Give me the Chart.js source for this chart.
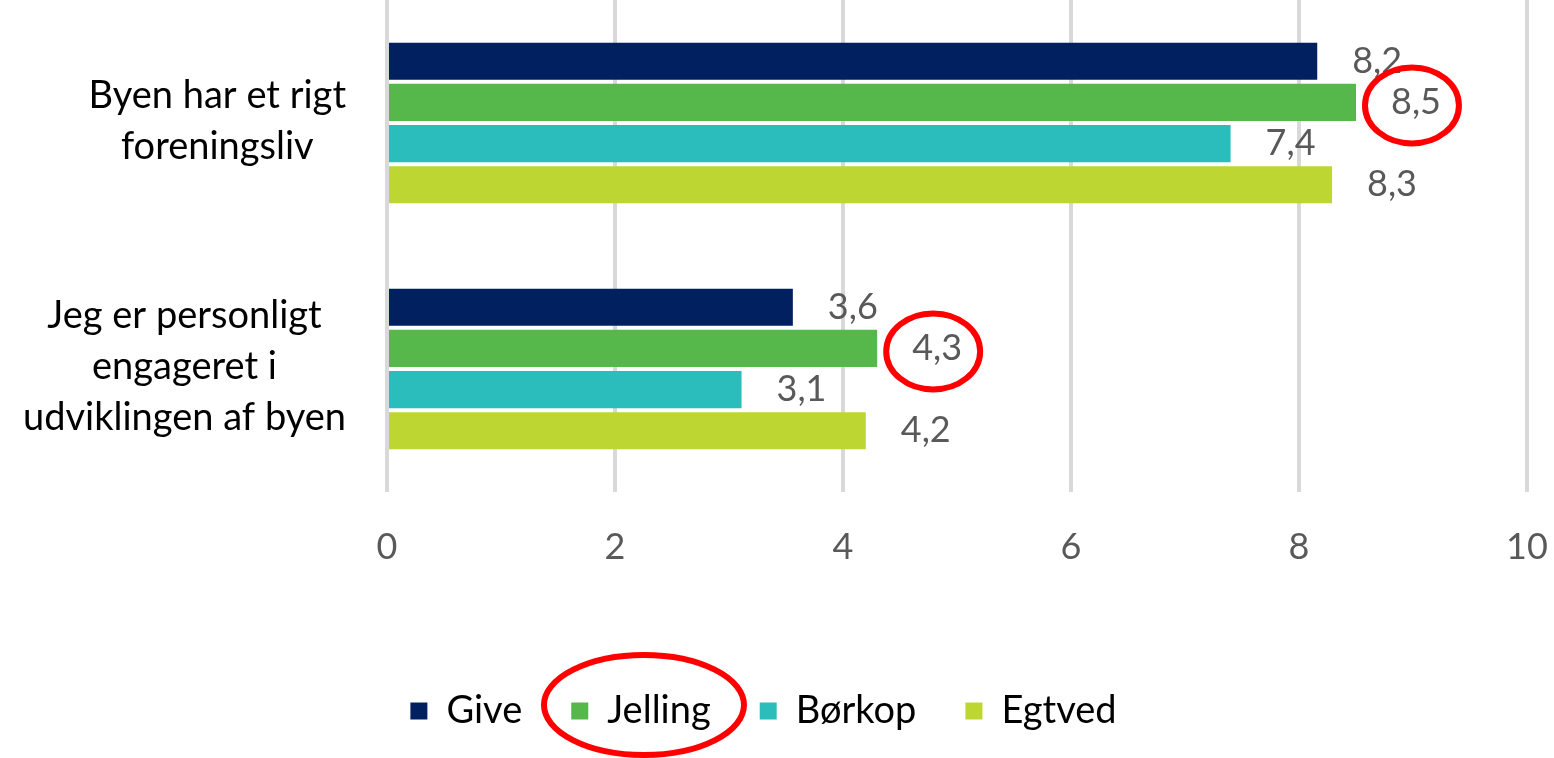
<!DOCTYPE html>
<html lang="da">
<head>
<meta charset="UTF-8">
<title>Foreningsliv og engagement</title>
<script src="https://cdn.jsdelivr.net/npm/chart.js"></script>
<style>
  html, body { margin: 0; padding: 0; background: #fff; }
  #wrap { width: 1554px; height: 758px; }
</style>
</head>
<body>
<div id="wrap"><canvas id="myChart" width="1554" height="758"></canvas></div>
<script>
// data
const categories = [
    ['Byen har et rigt', 'foreningsliv'],
    ['Jeg er personligt', 'engageret i', 'udviklingen af byen']
];
const seriesNames = ['Give', 'Jelling', 'Børkop', 'Egtved'];
const giveValues = [8.16, 3.56];
const jellingValues = [8.5, 4.3];
const borkopValues = [7.4, 3.11];
const egtvedValues = [8.29, 4.2];
const seriesColors = ['#002060', '#56B84A', '#2BBCBC', '#BDD632'];
const xTicks = [0, 2, 4, 6, 8, 10];
const circled = 'Jelling';

const fontFamily = 'Lato, "Open Sans", sans-serif';

function fmt(v) {
    return v.toFixed(1).replace('.', ',');
}

// kategori-tekster, centreret i en højrestillet blok
const categoryLabels = {
    id: 'categoryLabels',
    afterDraw(chart) {
        const ctx = chart.ctx;
        const y = chart.scales.y;
        const right = chart.chartArea.left - 41;
        const lh = 51;
        ctx.save();
        ctx.font = '38px ' + fontFamily;
        ctx.fillStyle = '#000000';
        ctx.textAlign = 'center';
        ctx.textBaseline = 'middle';
        categories.forEach((lines, i) => {
            const cy = y.getPixelForValue(i) - 2;
            const w = Math.max(...lines.map(l => ctx.measureText(l).width));
            const cx = right - w / 2;
            lines.forEach((l, j) => {
                ctx.fillText(l, cx, cy + (j - (lines.length - 1) / 2) * lh);
            });
        });
        ctx.restore();
    }
};

// værdier ved enden af søjlerne + røde ringe
const valueLabels = {
    id: 'valueLabels',
    afterDatasetsDraw(chart) {
        const ctx = chart.ctx;
        ctx.save();
        ctx.font = '36px ' + fontFamily;
        ctx.fillStyle = '#595959';
        ctx.textAlign = 'left';
        ctx.textBaseline = 'middle';
        chart.data.datasets.forEach((ds, di) => {
            const meta = chart.getDatasetMeta(di);
            meta.data.forEach((bar, i) => {
                const txt = fmt(ds.data[i]);
                const tx = bar.x + 35;
                ctx.fillText(txt, tx, bar.y);
                if (ds.label === circled) {
                    const w = ctx.measureText(txt).width;
                    ctx.save();
                    ctx.strokeStyle = '#FF0000';
                    ctx.lineWidth = 6;
                    ctx.beginPath();
                    ctx.ellipse(tx + w / 2 - 4, bar.y + 3, w / 2 + 22, 38, 0, 0, Math.PI * 2);
                    ctx.stroke();
                    ctx.restore();
                }
            });
        });
        ctx.restore();
    },
    afterDraw(chart) {
        const lg = chart.legend;
        const idx = seriesNames.indexOf(circled);
        const hb = lg.legendHitBoxes[idx];
        if (!hb) return;
        const ctx = chart.ctx;
        ctx.save();
        ctx.strokeStyle = '#FF0000';
        ctx.lineWidth = 6;
        ctx.beginPath();
        ctx.ellipse(hb.left + hb.width / 2 + 3, hb.top + hb.height / 2 - 6, 100, 50, 0, 0, Math.PI * 2);
        ctx.stroke();
        ctx.restore();
    }
};

const allValues = [giveValues, jellingValues, borkopValues, egtvedValues];

new Chart(document.getElementById('myChart').getContext('2d'), {
    type: 'bar',
    data: {
        labels: categories.map(c => c.join(' ')),
        datasets: seriesNames.map((name, i) => ({
            label: name,
            data: allValues[i],
            backgroundColor: seriesColors[i],
            borderWidth: 0,
            categoryPercentage: 0.67,
            barPercentage: 0.9
        }))
    },
    options: {
        indexAxis: 'y',
        responsive: false,
        animation: false,
        layout: { padding: { top: 0, right: 27, bottom: 18, left: 0 } },
        scales: {
            x: {
                min: 0,
                max: 10,
                afterBuildTicks(scale) {
                    scale.ticks = xTicks.map(v => ({ value: v }));
                },
                afterFit(scale) {
                    scale.height = 151;
                    scale.paddingLeft = 0;
                    scale.paddingRight = 0;
                },
                grid: { color: '#D9D9D9', lineWidth: 4, drawTicks: false },
                border: { display: false },
                ticks: {
                    padding: 34,
                    color: '#595959',
                    font: { family: fontFamily, size: 36 }
                }
            },
            y: {
                afterFit(scale) {
                    scale.width = 387;
                },
                grid: { display: false },
                border: { display: false },
                ticks: { display: false }
            }
        },
        plugins: {
            legend: {
                position: 'bottom',
                labels: {
                    boxWidth: 17,
                    boxHeight: 17,
                    padding: 49,
                    color: '#000000',
                    font: { family: fontFamily, size: 38 }
                }
            },
            tooltip: { enabled: false }
        }
    },
    plugins: [categoryLabels, valueLabels]
});
</script>
</body>
</html>
